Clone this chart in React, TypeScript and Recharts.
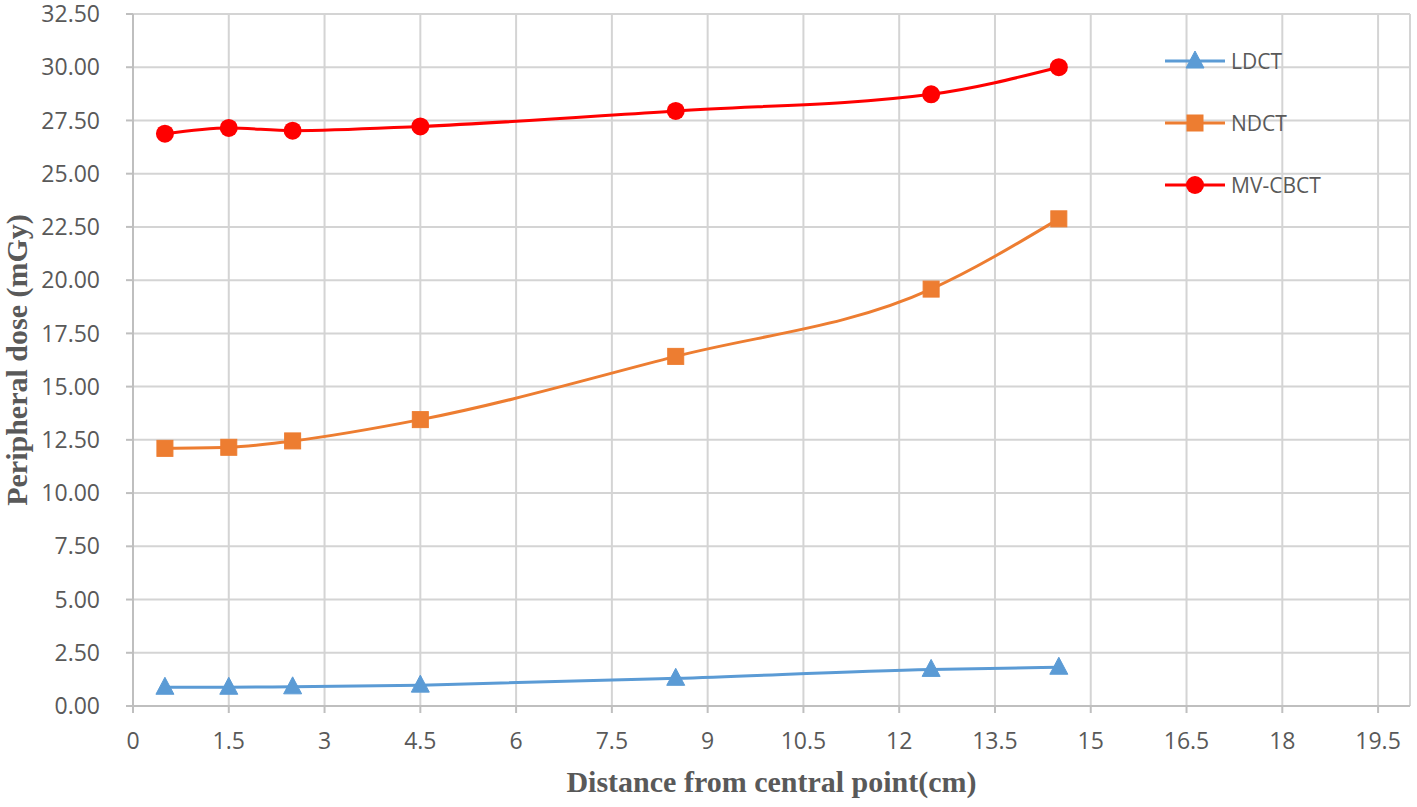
import React from 'react'
import { LineChart, Line, XAxis, YAxis, CartesianGrid, Legend } from 'recharts'

document.body.style.margin = '0'

const distances = [0.5, 1.5, 2.5, 4.5, 8.5, 12.5, 14.5]
const ldct = [0.88, 0.88, 0.9, 0.98, 1.3, 1.72, 1.82]
const ndct = [12.1, 12.15, 12.45, 13.45, 16.42, 19.58, 22.88]
const mvcbct = [26.88, 27.15, 27.02, 27.22, 27.95, 28.73, 30.0]

const xTicks = [0, 1.5, 3, 4.5, 6, 7.5, 9, 10.5, 12, 13.5, 15, 16.5, 18, 19.5]
const yTicks = [0, 2.5, 5, 7.5, 10, 12.5, 15, 17.5, 20, 22.5, 25, 27.5, 30, 32.5]

const data = distances.map((d, i) => ({ d, ldct: ldct[i], ndct: ndct[i], mvcbct: mvcbct[i] }))

const BLUE = '#5B9BD5'
const ORANGE = '#ED7D31'
const RED = '#FF0000'
const GRID = '#D4D4D4'
const AXIS = '#BFBFBF'
const TEXT = '#595959'

const series = [
  { key: 'ldct', name: 'LDCT', color: BLUE, shape: 'triangle' },
  { key: 'ndct', name: 'NDCT', color: ORANGE, shape: 'square' },
  { key: 'mvcbct', name: 'MV-CBCT', color: RED, shape: 'circle' },
]

const Marker = ({ cx, cy, shape, color }: any) => {
  if (cx == null || cy == null) return null
  if (shape === 'triangle') {
    return <path d={`M${cx},${cy - 10} L${cx + 9},${cy + 7} L${cx - 9},${cy + 7} Z`} fill={color} stroke={color} strokeWidth={1} />
  }
  if (shape === 'square') {
    return <rect x={cx - 8} y={cy - 8} width={16} height={16} fill={color} stroke={color} strokeWidth={1} />
  }
  return <circle cx={cx} cy={cy} r={9} fill={color} />
}

const LegendBox = () => (
  <div style={{ fontFamily: 'Open Sans', fontSize: 21, color: TEXT }}>
    {series.map((s) => (
      <div key={s.key} style={{ display: 'flex', alignItems: 'center', height: 62 }}>
        <svg width={66} height={24}>
          <line x1={2} y1={12} x2={62} y2={12} stroke={s.color} strokeWidth={3} />
          <Marker cx={32} cy={12} shape={s.shape} color={s.color} />
        </svg>
        <span style={{ marginLeft: 2 }}>{s.name}</span>
      </div>
    ))}
  </div>
)

export default function App() {
  return (
    <LineChart width={1417} height={807} data={data} margin={{ top: 14, right: 7, bottom: 0, left: 0 }}>
      <CartesianGrid stroke={GRID} strokeWidth={2} />
      <XAxis
        dataKey="d"
        type="number"
        domain={[0, 20]}
        ticks={xTicks}
        height={101}
        stroke={AXIS}
        strokeWidth={2}
        tickSize={7}
        tickMargin={20}
        tick={{ fill: TEXT, fontSize: 23, fontFamily: 'Open Sans' }}
        label={{
          value: 'Distance from central point(cm)',
          position: 'insideBottom',
          offset: 15,
          fill: TEXT,
          fontSize: 30,
          fontWeight: 'bold',
          fontFamily: 'Liberation Serif',
        }}
      />
      <YAxis
        type="number"
        domain={[0, 32.5]}
        ticks={yTicks}
        width={133}
        stroke={AXIS}
        strokeWidth={2}
        tickSize={7}
        tickMargin={26}
        tickFormatter={(v: number) => v.toFixed(2)}
        tick={{ fill: TEXT, fontSize: 23, fontFamily: 'Open Sans' }}
        label={{
          value: 'Peripheral dose (mGy)',
          angle: -90,
          position: 'insideLeft',
          offset: 16,
          fill: TEXT,
          fontSize: 30,
          fontWeight: 'bold',
          fontFamily: 'Liberation Serif',
          style: { textAnchor: 'middle' },
        }}
      />
      <Legend
        layout="vertical"
        align="center"
        verticalAlign="middle"
        content={() => <LegendBox />}
        wrapperStyle={{ left: 1163, top: 30, width: 200, height: 190 }}
      />
      {series.map((s) => (
        <Line
          key={s.key}
          dataKey={s.key}
          name={s.name}
          type="monotone"
          stroke={s.color}
          strokeWidth={3}
          dot={(p: any) => <Marker key={`${s.key}-${p.index}`} cx={p.cx} cy={p.cy} shape={s.shape} color={s.color} />}
          isAnimationActive={false}
        />
      ))}
    </LineChart>
  )
}
